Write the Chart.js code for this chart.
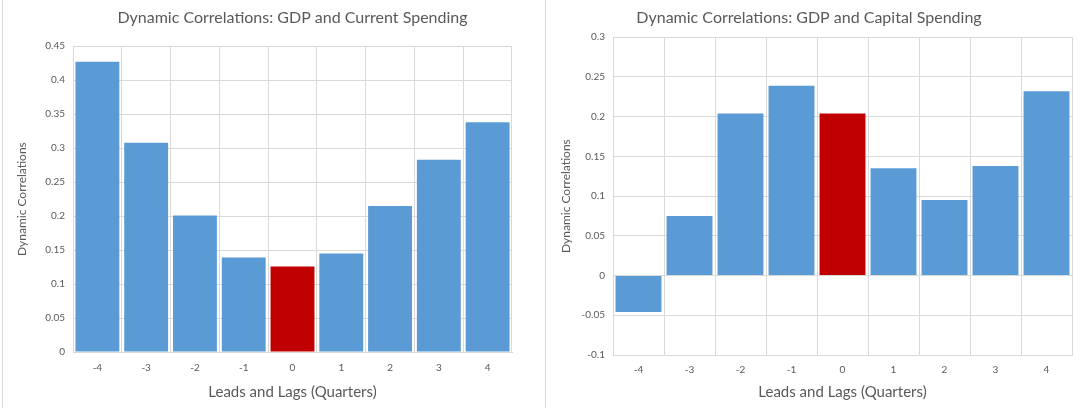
<!DOCTYPE html>
<html>
<head>
<meta charset="utf-8">
<script src="https://cdn.jsdelivr.net/npm/chart.js@4"></script>
<style>
  html, body { margin: 0; padding: 0; background: #fff; }
  body { width: 1089px; height: 408px; position: relative; overflow: hidden; }
  .panel { position: absolute; top: 0; height: 408px; }
  #leftPanel  { left: 0; width: 545px; }
  #rightPanel { left: 546px; width: 543px; }
  .edge { position: absolute; top: 0; width: 1px; height: 408px; background: #d9d9d9; }
</style>
</head>
<body>
<div class="edge" style="left:2px"></div>
<div class="edge" style="left:545px"></div>
<div class="panel" id="leftPanel"><canvas id="currentChart"></canvas></div>
<div class="panel" id="rightPanel"><canvas id="capitalChart"></canvas></div>

<script>
/* ─── DATA ─────────────────────────────────────────────────── */
const LAGS          = ['-4', '-3', '-2', '-1', '0', '1', '2', '3', '4'];
const CURRENT_CORR  = [0.427, 0.308, 0.201, 0.139, 0.126, 0.145, 0.215, 0.283, 0.338];
const CAPITAL_CORR  = [-0.046, 0.075, 0.204, 0.239, 0.204, 0.135, 0.095, 0.138, 0.232];
const CURRENT_TICKS = { min: 0, max: 0.45, step: 0.05 };
const CAPITAL_TICKS = { min: -0.1, max: 0.3, step: 0.05 };
const ZERO_LAG      = '0';

const BLUE = '#5b9bd5', RED = '#c00000', GRID = '#d9d9d9', TXT = '#595959';
const FONT = 'Lato, "Open Sans", sans-serif';

const chartInstances = {};

function safeChart(id, config) {
  if (chartInstances[id]) chartInstances[id].destroy();
  const ctx = document.getElementById(id);
  if (!ctx) return;
  chartInstances[id] = new Chart(ctx, config);
}

/** Cấu hình chung cho hai biểu đồ tương quan */
function corrConfig(title, values, range, L) {
  return {
    type: 'bar',
    data: {
      labels: LAGS,
      datasets: [{
        data: values,
        backgroundColor: LAGS.map(l => l === ZERO_LAG ? RED : BLUE),
        borderWidth: 0,
        barPercentage: 0.9, categoryPercentage: 1,
      }],
    },
    options: {
      responsive: false, animation: false,
      layout: { padding: { left: 0, right: L.padRight, top: 0, bottom: 0 } },
      plugins: {
        legend: { display: false },
        tooltip: { enabled: false },
        title: {
          display: true, text: title, color: TXT, fullSize: L.titleFull,
          font: { family: FONT, size: 16, weight: 'normal' },
          padding: { top: 8, bottom: L.titleGap },
        },
      },
      scales: {
        x: {
          grid: { color: GRID, drawTicks: false, offset: true },
          border: { color: GRID },
          ticks: { color: TXT, font: { family: FONT, size: 10 }, padding: L.xTickPad },
          title: {
            display: true, text: 'Leads and Lags (Quarters)', color: TXT,
            font: { family: FONT, size: 15 }, padding: { top: 0, bottom: 7 },
          },
          afterFit: s => { s.height = L.xHeight; },
        },
        y: {
          min: range.min, max: range.max,
          grid: { color: GRID, drawTicks: false },
          border: { color: GRID },
          ticks: {
            stepSize: range.step, color: TXT, padding: 8,
            font: { family: FONT, size: 10 },
            callback: v => String(+v.toFixed(2)),
          },
          title: {
            display: true, text: 'Dynamic Correlations', color: TXT,
            font: { family: FONT, size: 12 }, padding: { top: L.yTitlePad, bottom: 0 },
          },
          afterFit: s => { s.width = L.yWidth; },
        },
      },
    },
  };
}

/* ─── CHARTS ───────────────────────────────────────────────── */
const leftCanvas = document.getElementById('currentChart');
leftCanvas.width = 545; leftCanvas.height = 408;
const rightCanvas = document.getElementById('capitalChart');
rightCanvas.width = 543; rightCanvas.height = 408;

safeChart('currentChart', corrConfig(
  'Dynamic Correlations: GDP and Current Spending', CURRENT_CORR, CURRENT_TICKS,
  { padRight: 33, titleGap: 19, titleFull: false, xHeight: 56, xTickPad: 10, yWidth: 73, yTitlePad: 15 }
));

safeChart('capitalChart', corrConfig(
  'Dynamic Correlations: GDP and Capital Spending', CAPITAL_CORR, CAPITAL_TICKS,
  { padRight: 17, titleGap: 10, titleFull: true, xHeight: 53, xTickPad: 9, yWidth: 67, yTitlePad: 13 }
));
</script>
</body>
</html>
